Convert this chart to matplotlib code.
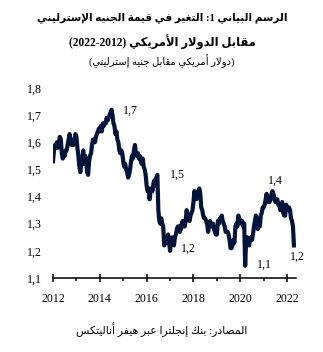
import re
import numpy as np
import matplotlib
matplotlib.use('Agg')
import matplotlib.pyplot as plt
from matplotlib.ticker import FixedLocator, FuncFormatter

# GBP/USD, two readings per month from January 2012
gbp_2012 = [1.53, 1.57, 1.59, 1.58, 1.60, 1.58, 1.60, 1.62, 1.61, 1.56, 1.54, 1.56,
            1.55, 1.57, 1.57, 1.59, 1.61, 1.63, 1.61, 1.59, 1.60, 1.59, 1.61, 1.63]
gbp_2013 = [1.62, 1.58, 1.55, 1.51, 1.49, 1.52, 1.54, 1.57, 1.52, 1.55, 1.53, 1.49,
            1.48, 1.53, 1.55, 1.56, 1.59, 1.61, 1.61, 1.60, 1.62, 1.63, 1.64, 1.65]
gbp_2014 = [1.64, 1.66, 1.64, 1.67, 1.66, 1.67, 1.67, 1.69, 1.68, 1.69, 1.70, 1.71,
            1.72, 1.70, 1.67, 1.66, 1.63, 1.64, 1.61, 1.60, 1.57, 1.56, 1.57, 1.56]
gbp_2015 = [1.53, 1.51, 1.52, 1.50, 1.49, 1.47, 1.48, 1.50, 1.53, 1.55, 1.54, 1.57,
            1.59, 1.56, 1.55, 1.56, 1.54, 1.55, 1.53, 1.52, 1.54, 1.51, 1.50, 1.48]
gbp_2016 = [1.44, 1.42, 1.43, 1.39, 1.42, 1.43, 1.42, 1.45, 1.46, 1.44, 1.47, 1.48,
            1.35, 1.31, 1.30, 1.32, 1.30, 1.29, 1.22, 1.24, 1.23, 1.25, 1.26, 1.23]
gbp_2017 = [1.20, 1.24, 1.25, 1.23, 1.22, 1.25, 1.26, 1.28, 1.29, 1.29, 1.27, 1.28,
            1.30, 1.31, 1.29, 1.29, 1.31, 1.35, 1.33, 1.32, 1.31, 1.33, 1.34, 1.35]
gbp_2018 = [1.38, 1.42, 1.40, 1.39, 1.40, 1.42, 1.43, 1.41, 1.36, 1.35, 1.33, 1.32,
            1.32, 1.31, 1.30, 1.27, 1.29, 1.31, 1.30, 1.29, 1.30, 1.28, 1.27, 1.26]
gbp_2019 = [1.26, 1.31, 1.30, 1.32, 1.31, 1.33, 1.31, 1.30, 1.29, 1.27, 1.27, 1.27,
            1.26, 1.24, 1.21, 1.21, 1.22, 1.24, 1.23, 1.29, 1.30, 1.29, 1.33, 1.32]
gbp_2020 = [1.31, 1.30, 1.31, 1.29, 1.30, 1.145, 1.24, 1.25, 1.24, 1.22, 1.24, 1.25,
            1.24, 1.26, 1.29, 1.31, 1.33, 1.32, 1.28, 1.30, 1.29, 1.33, 1.34, 1.36]
gbp_2021 = [1.36, 1.37, 1.39, 1.41, 1.38, 1.39, 1.38, 1.39, 1.41, 1.42, 1.41, 1.39,
            1.38, 1.39, 1.39, 1.37, 1.37, 1.35, 1.37, 1.38, 1.34, 1.33, 1.33, 1.37]
gbp_2022 = [1.36, 1.35, 1.36, 1.35, 1.32, 1.31, 1.29, 1.22]

year_ticks = [2012, 2014, 2016, 2018, 2020, 2022]
rate_ticks = [1.1, 1.2, 1.3, 1.4, 1.5, 1.6, 1.7, 1.8]

label_text = ['1,7', '1,5', '1,2', '1,1', '1,4', '1,2']
label_x = [2015.29, 2017.30, 2017.77, 2021.02, 2021.49, 2022.43]
label_y = [1.715, 1.480, 1.207, 1.148, 1.457, 1.177]

title_1 = 'الرسم البياني 1: التغير في قيمة الجنيه الإسترليني'
title_2 = 'مقابل الدولار الأمريكي (2012-2022)'
units = '(دولار أمريكي مقابل جنيه إسترليني)'
source = 'المصادر: بنك إنجلترا عبر هيفر أناليتكس'

# presentation-form block start, and whether the letter joins on both sides
ARABIC = {
    '\u0622': (0xFE81, False), '\u0623': (0xFE83, False), '\u0625': (0xFE87, False),
    '\u0627': (0xFE8D, False), '\u0628': (0xFE8F, True), '\u0629': (0xFE93, False),
    '\u062A': (0xFE95, True), '\u062B': (0xFE99, True), '\u062C': (0xFE9D, True),
    '\u062D': (0xFEA1, True), '\u062E': (0xFEA5, True), '\u062F': (0xFEA9, False),
    '\u0630': (0xFEAB, False), '\u0631': (0xFEAD, False), '\u0632': (0xFEAF, False),
    '\u0633': (0xFEB1, True), '\u0634': (0xFEB5, True), '\u0635': (0xFEB9, True),
    '\u0636': (0xFEBD, True), '\u0637': (0xFEC1, True), '\u0638': (0xFEC5, True),
    '\u0639': (0xFEC9, True), '\u063A': (0xFECD, True), '\u0641': (0xFED1, True),
    '\u0642': (0xFED5, True), '\u0643': (0xFED9, True), '\u0644': (0xFEDD, True),
    '\u0645': (0xFEE1, True), '\u0646': (0xFEE5, True), '\u0647': (0xFEE9, True),
    '\u0648': (0xFEED, False), '\u0649': (0xFEEF, False), '\u064A': (0xFEF1, True),
}
LAM_ALEF = {'\u0622': 0xFEF5, '\u0623': 0xFEF7, '\u0625': 0xFEF9, '\u0627': 0xFEFB}


def shape(text):
    out = []
    i = 0
    while i < len(text):
        c = text[i]
        if c not in ARABIC:
            out.append(c)
            i += 1
            continue
        prev = text[i - 1] if i > 0 else ''
        link_prev = prev in ARABIC and ARABIC[prev][1]
        nxt = text[i + 1] if i + 1 < len(text) else ''
        if c == '\u0644' and nxt in LAM_ALEF:
            out.append(chr(LAM_ALEF[nxt] + int(link_prev)))
            i += 2
            continue
        start, dual = ARABIC[c]
        link_next = dual and nxt in ARABIC
        if link_prev and link_next:
            k = 3
        elif link_prev:
            k = 1
        elif link_next:
            k = 2
        else:
            k = 0
        out.append(chr(start + k))
        i += 1
    return ''.join(out)


def rtl(text):
    s = shape(text)[::-1]
    s = re.sub(r'\d+', lambda m: m.group()[::-1], s)
    return s.translate(str.maketrans('()', ')('))


def comma(v, pos=None):
    return f'{v:.1f}'.replace('.', ',')


rates = np.array(gbp_2012 + gbp_2013 + gbp_2014 + gbp_2015 + gbp_2016 + gbp_2017
                 + gbp_2018 + gbp_2019 + gbp_2020 + gbp_2021 + gbp_2022)
years = 2012 + np.arange(len(rates)) / 24

W, H = 323, 352
fig = plt.figure(figsize=(W / 100, H / 100), dpi=100)
ax = fig.add_axes([53 / W, 1 - 278 / H, 243 / W, 190 / H])

serif = ['Liberation Serif', 'DejaVu Sans']
navy = '#03143a'

ax.plot(years, rates, color=navy, lw=3.0, solid_joinstyle='round')
ax.set_xlim(2012, 2022.38)
ax.set_ylim(1.1, 1.8)

for s in ['top', 'right', 'left']:
    ax.spines[s].set_visible(False)
ax.spines['bottom'].set_linewidth(1.1)

ax.xaxis.set_major_locator(FixedLocator(year_ticks))
ax.xaxis.set_minor_locator(FixedLocator([y + 1 for y in year_ticks[:-1]]))
ax.yaxis.set_major_locator(FixedLocator(rate_ticks))
ax.yaxis.set_major_formatter(FuncFormatter(comma))
ax.tick_params(axis='x', which='major', direction='inout', length=6, width=1.1, pad=8)
ax.tick_params(axis='x', which='minor', direction='out', length=2.5, width=1.1)
ax.tick_params(axis='y', length=0, pad=8)
for lbl in ax.get_xticklabels() + ax.get_yticklabels():
    lbl.set_family(serif)
    lbl.set_fontsize(8.6)

for t, x, y in zip(label_text, label_x, label_y):
    ax.text(x, y, t, family=serif, fontsize=8.6, ha='center', va='center', clip_on=False)

fig.text(162 / W, 1 - 18 / H, rtl(title_1), family=serif, fontweight='bold',
         fontsize=7.6, ha='center', va='center')
fig.text(162 / W, 1 - 42 / H, rtl(title_2), family=serif, fontweight='bold',
         fontsize=8.3, ha='center', va='center')
fig.text(162 / W, 1 - 61 / H, rtl(units), family=serif, fontsize=7.2,
         ha='center', va='center')
fig.text(162 / W, 1 - 330 / H, rtl(source), family=serif, fontsize=7.8,
         ha='center', va='center')

fig.savefig('out.png', dpi=100, facecolor='white')
